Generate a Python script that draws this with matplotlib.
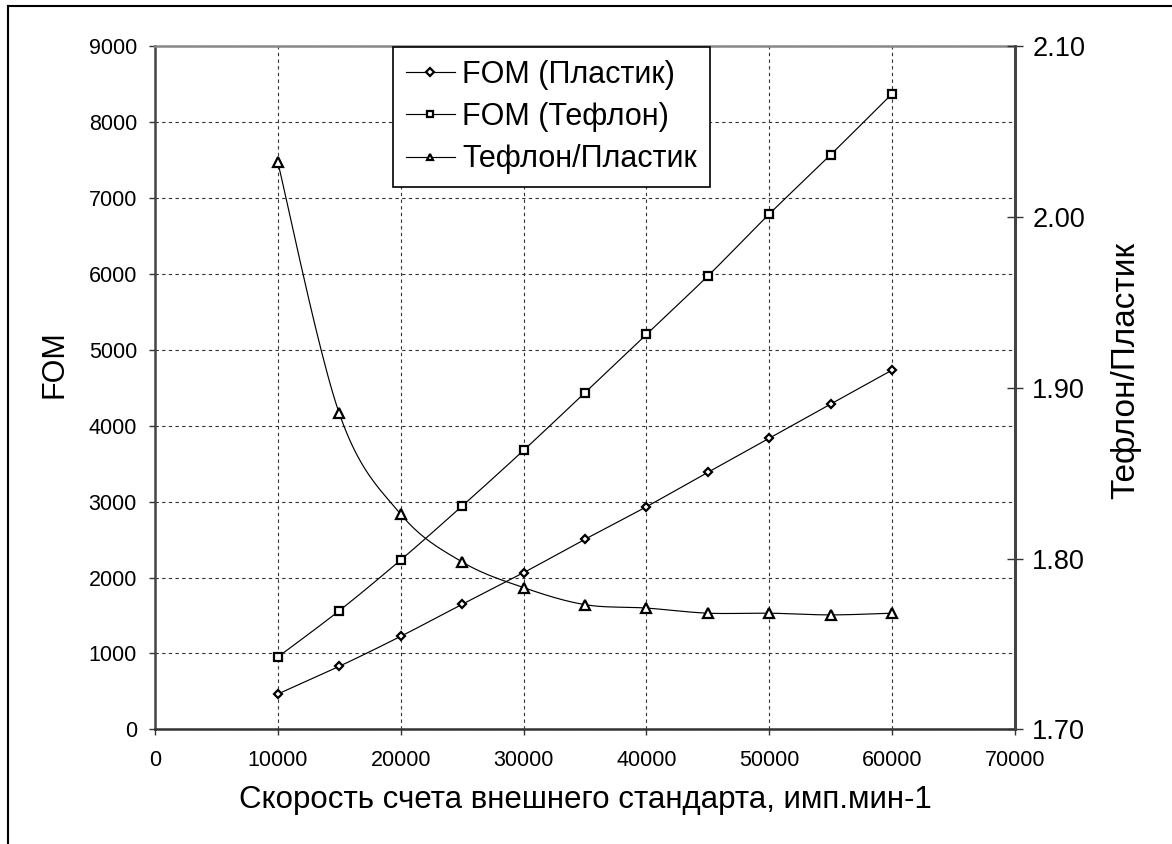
import numpy as np
import matplotlib
matplotlib.use("Agg")
import matplotlib.pyplot as plt
from matplotlib.lines import Line2D

plt.rcParams['font.family'] = ['Liberation Sans', 'DejaVu Sans']

# Count rate of the external standard, cpm
count_rate = [10000, 15000, 20000, 25000, 30000, 35000, 40000, 45000, 50000, 55000, 60000]
# Figure of merit for plastic and teflon vials
fom_plastic = [465, 830, 1225, 1647, 2064, 2504, 2933, 3386, 3834, 4286, 4734]
fom_teflon = [953, 1563, 2231, 2942, 3676, 4436, 5205, 5973, 6790, 7572, 8375]
# Teflon / plastic ratio
ratio = [2.032, 1.885, 1.826, 1.798, 1.783, 1.773, 1.771, 1.768, 1.768, 1.767, 1.768]

label_plastic = "FOM (Пластик)"
label_teflon = "FOM (Тефлон)"
label_ratio = "Тефлон/Пластик"
xlabel = "Скорость счета внешнего стандарта, имп.мин-1"
ylabel_left = "FOM"
ylabel_right = "Тефлон/Пластик"

x_ticks = list(range(0, 70001, 10000))
y_ticks = list(range(0, 9001, 1000))
y2_ticks = [1.70, 1.80, 1.90, 2.00, 2.10]


def smooth(xs, ys, steps=24):
    """Piecewise cubic Bezier through the points (Catmull-Rom style)."""
    p = np.column_stack([np.asarray(xs, float), np.asarray(ys, float)])
    n = len(p)
    out = []
    for i in range(n - 1):
        p0 = p[max(i - 1, 0)]
        p1 = p[i]
        p2 = p[i + 1]
        p3 = p[min(i + 2, n - 1)]
        c1 = p1 + (p2 - p0) / 6.0
        c2 = p2 - (p3 - p1) / 6.0
        t = np.linspace(0, 1, steps)[:, None]
        seg = ((1 - t) ** 3) * p1 + 3 * ((1 - t) ** 2) * t * c1 + 3 * (1 - t) * t ** 2 * c2 + t ** 3 * p2
        out.append(seg if i == 0 else seg[1:])
    pts = np.vstack(out)
    return pts[:, 0], pts[:, 1]


W, H = 1172, 844
fig = plt.figure(figsize=(W / 100, H / 100), dpi=100)
ax = fig.add_axes([155 / W, 1 - 729.3 / H, (1015 - 155) / W, (729.3 - 46.3) / H])
ax2 = ax.twinx()

lw = 0.85
mk = dict(markerfacecolor='white', markeredgecolor='black', markeredgewidth=1.6)

sx, sy = smooth(count_rate, fom_plastic)
ax.plot(sx, sy, color='black', lw=lw, zorder=3)
ax.plot(count_rate, fom_plastic, ls='none', marker='D', markersize=4.5, zorder=4, **mk)

sx, sy = smooth(count_rate, fom_teflon)
ax.plot(sx, sy, color='black', lw=lw, zorder=3)
ax.plot(count_rate, fom_teflon, ls='none', marker='s', markersize=5.5, zorder=4, **mk)

sx, sy = smooth(count_rate, ratio)
ax2.plot(sx, sy, color='black', lw=lw, zorder=3)
ax2.plot(count_rate, ratio, ls='none', marker='^', markersize=6.5, zorder=4, **mk)

# Axes limits and ticks
ax.set_xlim(0, 70000)
ax.set_ylim(0, 9000)
ax2.set_ylim(1.70, 2.10)
ax.set_xticks(x_ticks)
ax.set_yticks(y_ticks)
ax2.set_yticks(y2_ticks)
ax2.set_yticklabels([f"{v:.2f}" for v in y2_ticks])

ax.grid(True, color='#333333', linestyle=(0, (3, 3)), linewidth=0.8)
ax.set_axisbelow(True)

ax.tick_params(axis='both', labelsize=15.5, direction='out', length=4, width=1.0, color='#333333')
ax.tick_params(axis='y', pad=9)
ax.tick_params(axis='x', pad=11)
ax2.tick_params(axis='y', labelsize=19.5, direction='inout', length=11, width=1.0, color='#333333', pad=7)

for name, sp in ax.spines.items():
    sp.set_linewidth(1.8)
ax.spines['left'].set_color('#444444')
ax.spines['bottom'].set_color('#333333')
ax.spines['top'].set_color('#888888')
ax2.spines['right'].set_color('#444444')
ax2.spines['right'].set_linewidth(1.8)
for s in ('left', 'top', 'bottom'):
    ax2.spines[s].set_visible(False)

ax.set_xlabel(xlabel, fontsize=22.5, labelpad=10)
ax.set_ylabel(ylabel_left, fontsize=22, labelpad=14)
ax2.set_ylabel(ylabel_right, fontsize=24, labelpad=18)
ax.yaxis.label.set_y(0.535)
ax2.yaxis.label.set_y(0.526)

# Legend with slightly smaller markers
handles = [
    Line2D([], [], color='black', lw=lw, marker='D', markersize=4, **mk),
    Line2D([], [], color='black', lw=lw, marker='s', markersize=5, **mk),
    Line2D([], [], color='black', lw=lw, marker='^', markersize=5, **mk),
]
leg = ax2.legend(handles, [label_plastic, label_teflon, label_ratio],
                 loc='upper left', bbox_to_anchor=(393 / W, 1 - 47 / H),
                 bbox_transform=fig.transFigure, borderaxespad=0,
                 fontsize=22, frameon=True, fancybox=False, shadow=False,
                 framealpha=1, edgecolor='black', handlelength=1.6,
                 handletextpad=0.25, labelspacing=0.4, borderpad=0.42)
leg.get_frame().set_linewidth(1.2)
leg.set_zorder(10)

# Outer chart border (top and left edges)
fig.add_artist(Line2D([8 / W, 8 / W], [0, 1 - 6 / H], transform=fig.transFigure, color='black', lw=1.5))
fig.add_artist(Line2D([8 / W, 1], [1 - 6 / H, 1 - 6 / H], transform=fig.transFigure, color='black', lw=1.5))

fig.savefig("out.png", dpi=100)
